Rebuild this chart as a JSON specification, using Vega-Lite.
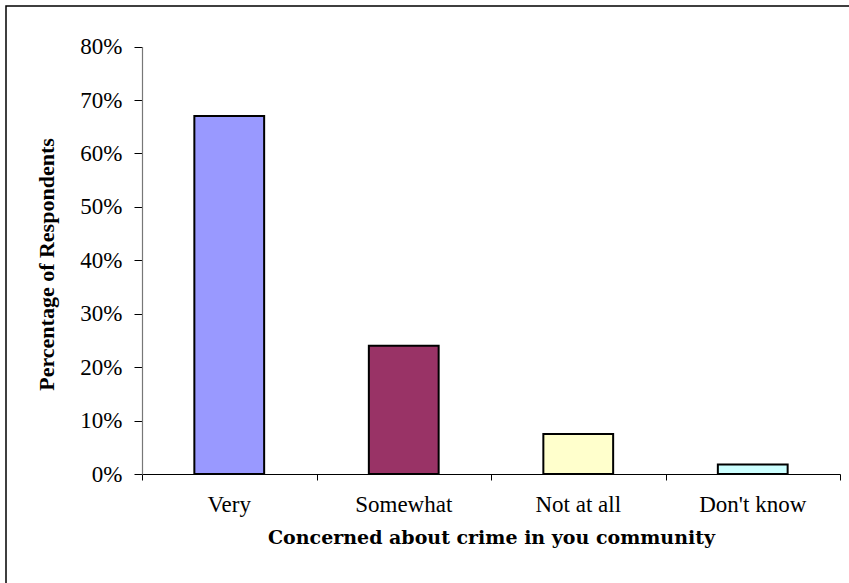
{
  "$schema": "https://vega.github.io/schema/vega-lite/v6.json",
  "width": 846,
  "height": 580,
  "autosize": "none",
  "padding": {"left": 6, "top": 6, "right": 0, "bottom": 0},
  "background": "white",
  "config": {
    "view": {"stroke": "black", "strokeWidth": 1.5},
    "font": "Liberation Serif"
  },
  "layer": [
    {
      "data": {
        "values": [
          {"response": "Very", "pct": 0.67},
          {"response": "Somewhat", "pct": 0.24},
          {"response": "Not at all", "pct": 0.075},
          {"response": "Don't know", "pct": 0.018}
        ]
      },
      "mark": {"type": "bar", "stroke": "black", "strokeWidth": 2, "width": {"band": 0.4}},
      "encoding": {
        "x": {
          "field": "response",
          "type": "nominal",
          "sort": null,
          "scale": {"range": [136, 834], "paddingInner": 0, "paddingOuter": 0},
          "axis": {
            "orient": "bottom",
            "offset": -112,
            "labelAngle": 0,
            "labelFont": "Liberation Serif",
            "labelFontSize": 23,
            "labelColor": "black",
            "labelPadding": 19,
            "ticks": false,
            "domain": true,
            "domainColor": "black",
            "domainWidth": 1.2,
            "grid": false,
            "title": "Concerned about crime in you community",
            "titleFont": "DejaVu Serif",
            "titleFontSize": 19,
            "titleFontWeight": "bold",
            "titleColor": "black",
            "titlePadding": 12
          }
        },
        "y": {
          "field": "pct",
          "type": "quantitative",
          "scale": {"domain": [0, 0.8], "range": [468, 40.6], "nice": false},
          "axis": {
            "orient": "left",
            "offset": -136,
            "values": [0, 0.1, 0.2, 0.3, 0.4, 0.5, 0.6, 0.7, 0.8],
            "format": ".0%",
            "labelFont": "Liberation Serif",
            "labelFontSize": 23,
            "labelColor": "black",
            "labelPadding": 12,
            "tickSize": 8,
            "tickColor": "black",
            "domainColor": "#777777",
            "domainWidth": 1.2,
            "grid": false,
            "title": "Percentage of Respondents",
            "titleFont": "Liberation Serif",
            "titleFontSize": 22,
            "titleFontWeight": "bold",
            "titleColor": "black",
            "titleX": -84,
            "titleY": 258
          }
        },
        "color": {
          "field": "response",
          "type": "nominal",
          "scale": {
            "domain": ["Very", "Somewhat", "Not at all", "Don't know"],
            "range": ["#9999FF", "#993366", "#FFFFCC", "#CCFFFF"]
          },
          "legend": null
        }
      }
    },
    {
      "mark": {"type": "point", "opacity": 0},
      "encoding": {
        "x": {
          "datum": 0,
          "type": "quantitative",
          "scale": {"domain": [0, 4], "range": [136, 834]},
          "axis": {
            "orient": "bottom",
            "offset": -112,
            "values": [0, 1, 2, 3, 4],
            "labels": false,
            "domain": false,
            "ticks": true,
            "tickSize": 6,
            "tickColor": "black",
            "grid": false,
            "title": null
          }
        }
      }
    }
  ],
  "resolve": {"scale": {"x": "independent"}, "axis": {"x": "independent"}}
}
